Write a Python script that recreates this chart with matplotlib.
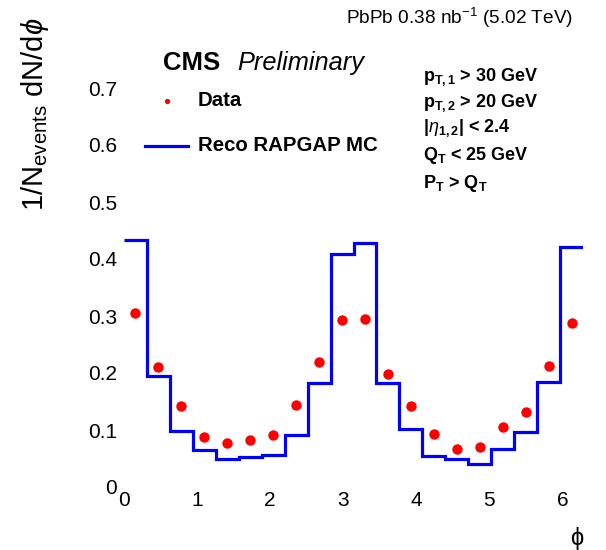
import numpy as np
from matplotlib import pyplot as plt

plt.rcParams['font.family'] = ['Liberation Sans', 'DejaVu Sans']
plt.rcParams['mathtext.fontset'] = 'custom'
plt.rcParams['mathtext.rm'] = 'Liberation Sans'
plt.rcParams['mathtext.it'] = 'Liberation Sans:italic'
plt.rcParams['mathtext.bf'] = 'Liberation Sans:bold'

n_bins = 20
edges = np.linspace(0, 2 * np.pi, n_bins + 1)
centers = 0.5 * (edges[:-1] + edges[1:])

# values
data = [0.306, 0.211, 0.142, 0.088, 0.078, 0.082, 0.091, 0.143, 0.220, 0.293,
        0.294, 0.199, 0.142, 0.093, 0.067, 0.071, 0.105, 0.131, 0.212, 0.287]
mc_reco = [0.433, 0.194, 0.098, 0.065, 0.050, 0.053, 0.057, 0.092, 0.182, 0.409,
           0.428, 0.182, 0.101, 0.054, 0.050, 0.041, 0.066, 0.097, 0.185, 0.421]
x_ticks = [0, 1, 2, 3, 4, 5, 6]
y_ticks = [0, 0.1, 0.2, 0.3, 0.4, 0.5, 0.6, 0.7]
y_tick_labels = ["0", "0.1", "0.2", "0.3", "0.4", "0.5", "0.6", "0.7"]

fig = plt.figure(figsize=(6.06, 5.5), dpi=100)
ax = fig.add_axes([124 / 606, 1 - 487 / 550, (583 - 124) / 606, (487 - 31) / 550])

ax.stairs(mc_reco, edges, baseline=None, color='#0000ff', lw=2.3)
ax.plot(centers, data, 'o', color='#ff0000', ms=7.5, mec='none')

ax.set_xlim(0, 2 * np.pi)
ax.set_ylim(0, 0.8)
for s in ax.spines.values():
    s.set_visible(False)
ax.set_xticks(x_ticks)
ax.set_yticks(y_ticks)
ax.set_yticklabels(y_tick_labels)
ax.tick_params(axis='both', length=0, labelsize=15)
ax.tick_params(axis='y', pad=5)
ax.tick_params(axis='x', pad=3)

fig.text(35 / 606, 1 - 18 / 550, r"1/N$_{\rm events}$ dN/d$\phi$", rotation=90,
         ha='center', va='top', fontsize=21)
fig.text(583 / 606, 1 - 538 / 550, "ϕ", ha='right', va='center', fontsize=17)

fig.text(573 / 606, 1 - 18 / 550, r"PbPb 0.38 nb$^{-1}$ (5.02 TeV)", ha='right',
         va='center', fontsize=13.7)
fig.text(163 / 606, 1 - 63 / 550, "CMS", ha='left', va='center', fontsize=18.5,
         fontweight='bold')
fig.text(237 / 606, 1 - 63 / 550, "Preliminary", ha='left', va='center',
         fontsize=18.3, style='italic')

# legend
fig.lines.append(plt.Line2D([167 / 606], [1 - 101 / 550], marker='o', color='#ff0000',
                            ms=2.8, ls='none', transform=fig.transFigure))
fig.text(198 / 606, 1 - 101 / 550, "Data", ha='left', va='center', fontsize=14.7,
         fontweight='bold')
fig.lines.append(plt.Line2D([145 / 606, 188 / 606], [1 - 146 / 550] * 2, color='#0000ff',
                            lw=2.3, transform=fig.transFigure))
fig.text(198 / 606, 1 - 146 / 550, "Reco RAPGAP MC", ha='left', va='center',
         fontsize=14.7, fontweight='bold')

cuts = [r"p$_{\bf T,1}$ > 30 GeV", r"p$_{\bf T,2}$ > 20 GeV", r"|$\eta_{\bf 1,2}$| < 2.4",
        r"Q$_{\bf T}$ < 25 GeV", r"P$_{\bf T}$ > Q$_{\bf T}$"]
cut_y = [77, 103, 128, 156, 183]
for txt, yy in zip(cuts, cut_y):
    fig.text(423 / 606, 1 - yy / 550, txt, ha='left', va='center', fontsize=13,
             fontweight='bold')

fig.savefig("out.png", dpi=100)
